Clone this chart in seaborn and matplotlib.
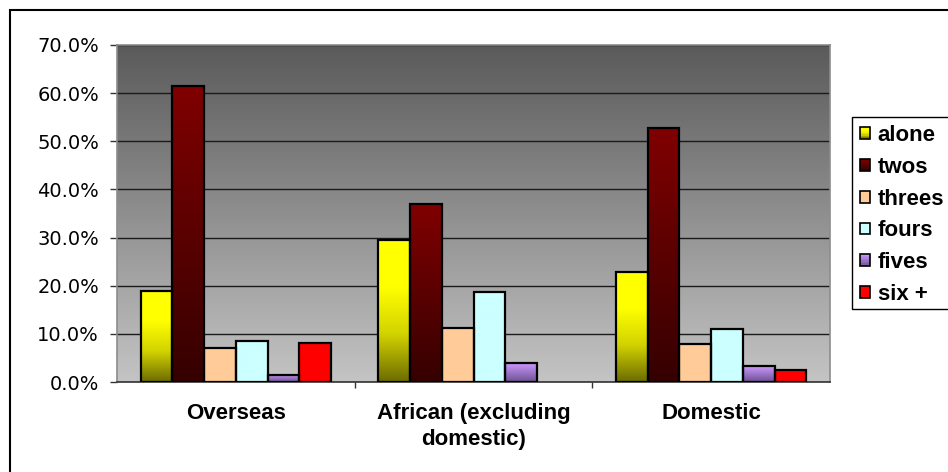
import numpy as np
import pandas as pd
import matplotlib
matplotlib.use("Agg")
import matplotlib.pyplot as plt
import seaborn as sns
from matplotlib.colors import LinearSegmentedColormap
from matplotlib.patches import Rectangle
from matplotlib.ticker import FuncFormatter
from matplotlib.legend_handler import HandlerBase
from matplotlib.font_manager import FontProperties

# ---- data -------------------------------------------------------------
categories = ["Overseas", "African (excluding\ndomestic)", "Domestic"]
groups = ["alone", "twos", "threes", "fours", "fives", "six +"]
alone = [19.0, 29.5, 22.9]
twos = [61.5, 36.9, 52.7]
threes = [7.1, 11.3, 7.8]
fours = [8.5, 18.7, 11.0]
fives = [1.5, 3.9, 3.3]
six_plus = [8.1, 0.0, 2.5]
y_ticks = [0, 10, 20, 30, 40, 50, 60, 70]

series = dict(zip(groups, [alone, twos, threes, fours, fives, six_plus]))
df = pd.DataFrame(
    [{"category": c, "group": g, "share": v}
     for g, vals in series.items() for c, v in zip(categories, vals)]
)

# bottom -> top colour stops for each series fill
fills = {
    "alone": ["#6b6b00", "#d2d200", "#ffff00", "#ffff00"],
    "twos": ["#350000", "#800000"],
    "threes": ["#ffcc99", "#ffcc99"],
    "fours": ["#ccffff", "#ccffff"],
    "fives": ["#6c5090", "#cc99ff"],
    "six +": ["#ff0000", "#ff0000"],
}
cmaps = {g: LinearSegmentedColormap.from_list(g, c) for g, c in fills.items()}
flat = {g: cmaps[g](0.6) for g in groups}

bold_font = FontProperties(family="Liberation Sans", weight="bold", size=16)

W, H = 948, 472
fig = plt.figure(figsize=(W / 100, H / 100), dpi=100)
fig.patch.set_facecolor("white")
ax = fig.add_axes([117 / W, 1 - 382 / H, (830 - 117) / W, (382 - 45) / H])

sns.barplot(data=df, x="category", y="share", hue="group", order=categories,
            hue_order=groups, palette=flat, saturation=1, width=0.8,
            legend=False, ax=ax, zorder=3)

# plot-area background: dark grey at top fading to light grey
bg = LinearSegmentedColormap.from_list("bg", ["#c4c4c4", "#5a5a5a"])
ax.imshow(np.linspace(0, 1, 256).reshape(-1, 1), extent=[-0.5, 2.5, 0, 70],
          origin="lower", cmap=bg, aspect="auto", zorder=0.1)

# vertical gradient inside every bar, black outline on top
for container, g in zip(ax.containers, groups):
    for p in container.patches:
        x, w, h = p.get_x(), p.get_width(), p.get_height()
        p.set_facecolor("none")
        p.set_zorder(3)
        if h <= 0:
            p.set_linewidth(0)
            continue
        p.set_edgecolor("black")
        p.set_linewidth(1.6)
        ax.imshow(np.linspace(0, 1, 256).reshape(-1, 1), extent=[x, x + w, 0, h],
                  origin="lower", cmap=cmaps[g], aspect="auto", zorder=2.5)

ax.set_xlim(-0.5, 2.5)
ax.set_ylim(0, 70)
ax.set_xlabel("")
ax.set_ylabel("")

ax.set_axisbelow(True)
ax.set_yticks(y_ticks)
ax.yaxis.set_major_formatter(FuncFormatter(lambda v, _: f"{v:.1f}%"))
ax.grid(axis="y", color="#1a1a1a", linewidth=1.0)
ax.grid(axis="x", visible=False)
ax.tick_params(axis="y", length=5, width=1, color="#333333", pad=8,
               labelsize=14, labelfontfamily="DejaVu Sans", labelcolor="black")

ax.set_xticks([0, 1, 2])
ax.set_xticklabels(categories, fontproperties=bold_font, linespacing=1.3)
ax.tick_params(axis="x", which="major", length=0, pad=15)
ax.set_xticks([0.5, 1.5], minor=True)
ax.tick_params(axis="x", which="minor", length=4.5, width=1, color="#333333", direction="out")

for side in ("left", "top", "right"):
    ax.spines[side].set_color("#8c8c8c")
    ax.spines[side].set_linewidth(1.2)
ax.spines["bottom"].set_color("#333333")
ax.spines["bottom"].set_linewidth(1.2)


# legend keys drawn as small shaded squares
class GradientKey:
    def __init__(self, cmap):
        self.cmap = cmap


class GradientHandler(HandlerBase):
    def create_artists(self, legend, orig_handle, xdescent, ydescent,
                       width, height, fontsize, trans):
        n = 8
        arts = []
        for i in range(n):
            arts.append(Rectangle((-xdescent, -ydescent + i * height / n), width,
                                  height / n, facecolor=orig_handle.cmap((i + 0.5) / n),
                                  edgecolor="none", transform=trans))
        arts.append(Rectangle((-xdescent, -ydescent), width, height, fill=False,
                              edgecolor="black", linewidth=1.2, transform=trans))
        return arts


keys = [GradientKey(cmaps[g]) for g in groups]
fig.add_artist(Rectangle((852 / W, 1 - 309 / H), 200 / W, (309 - 117) / H,
                         transform=fig.transFigure, facecolor="white",
                         edgecolor="black", linewidth=1.0, zorder=4))
leg = fig.legend(keys, groups, handler_map={GradientKey: GradientHandler()},
                 loc="upper left", bbox_to_anchor=(852 / W, 1 - 117 / H),
                 bbox_transform=fig.transFigure, frameon=False, borderaxespad=0,
                 prop=bold_font, handlelength=0.45, handleheight=0.45,
                 handletextpad=0.35, labelspacing=0.49, borderpad=0.35)
leg.set_zorder(5)

# outer chart frame (runs off the right and bottom edges)
fig.add_artist(Rectangle((10 / W, -0.1), 1.2, 1.1 - 10 / H,
                         transform=fig.transFigure, fill=False,
                         edgecolor="black", linewidth=1.5))

fig.savefig("out.png", dpi=100)
